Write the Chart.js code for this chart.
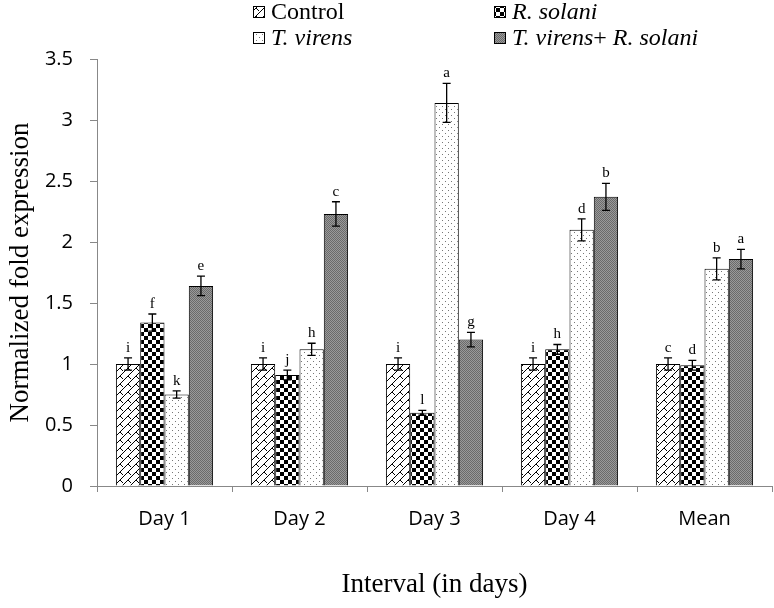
<!DOCTYPE html>
<html>
<head>
<meta charset="utf-8">
<script src="https://cdn.jsdelivr.net/npm/chart.js@4/dist/chart.umd.min.js"></script>
<style>
  body { margin: 0; background: #fff; }
  #wrap { width: 774px; height: 608px; }
</style>
</head>
<body>
<div id="wrap"><canvas id="chart" width="774" height="608"></canvas></div>
<script>
// Data
const categories = ["Day 1", "Day 2", "Day 3", "Day 4", "Mean"];
const controlVals = [1.0, 1.0, 1.0, 1.0, 1.0];
const solaniVals = [1.34, 0.91, 0.60, 1.12, 0.99];
const virensVals = [0.75, 1.12, 3.14, 2.10, 1.78];
const comboVals = [1.64, 2.23, 1.20, 2.37, 1.86];

// Error bars (+/-)
const controlErr = [0.05, 0.05, 0.05, 0.05, 0.05];
const solaniErr = [0.07, 0.04, 0.02, 0.04, 0.04];
const virensErr = [0.03, 0.05, 0.16, 0.09, 0.09];
const comboErr = [0.08, 0.10, 0.06, 0.11, 0.08];

// Significance letters
const controlLetters = ["i", "i", "i", "i", "c"];
const solaniLetters = ["f", "j", "l", "h", "d"];
const virensLetters = ["k", "h", "a", "d", "b"];
const comboLetters = ["e", "c", "g", "b", "a"];

const yTicks = [0, 0.5, 1, 1.5, 2, 2.5, 3, 3.5];

const serif = '"Liberation Serif", "Times New Roman", serif';

// Build fill patterns with small canvases
function makeTile(size, draw) {
  const c = document.createElement("canvas");
  c.width = size;
  c.height = size;
  const g = c.getContext("2d");
  draw(g, size);
  return document.createElement("canvas").getContext("2d").createPattern(c, "repeat");
}

const hatchPattern = makeTile(8, (g, s) => {
  g.fillStyle = "#fff";
  g.fillRect(0, 0, s, s);
  g.strokeStyle = "#000";
  g.lineWidth = 1;
  g.beginPath();
  g.moveTo(0, s); g.lineTo(s, 0);
  g.moveTo(-1, 1); g.lineTo(1, -1);
  g.moveTo(s - 1, s + 1); g.lineTo(s + 1, s - 1);
  g.moveTo(0, 0); g.lineTo(3, 3);
  g.stroke();
});

const checkPattern = makeTile(8, (g, s) => {
  g.fillStyle = "#fff";
  g.fillRect(0, 0, s, s);
  g.fillStyle = "#000";
  g.fillRect(0, 0, 4, 4);
  g.fillRect(4, 4, 4, 4);
});

const dotPattern = makeTile(6, (g, s) => {
  g.fillStyle = "#fff";
  g.fillRect(0, 0, s, s);
  g.fillStyle = "#777";
  g.fillRect(1, 1, 1, 1);
  g.fillRect(4, 4, 1, 1);
});

const grayPattern = makeTile(2, (g, s) => {
  g.fillStyle = "#9a9a9a";
  g.fillRect(0, 0, s, s);
  g.fillStyle = "#6a6a6a";
  g.fillRect(0, 0, 1, 1);
  g.fillRect(1, 1, 1, 1);
});

const errs = [controlErr, solaniErr, virensErr, comboErr];
const letters = [controlLetters, solaniLetters, virensLetters, comboLetters];

// Set a font and measure once, so the context resolves the face before drawing
function useFont(ctx, font) {
  ctx.font = font;
  ctx.measureText("Mg");
}

// Error bars and letters above each bar
const errorBarPlugin = {
  id: "errorBars",
  afterDatasetsDraw(chart) {
    const ctx = chart.ctx;
    const y = chart.scales.y;
    ctx.save();
    useFont(ctx, "15px " + serif);
    chart.data.datasets.forEach((ds, di) => {
      const meta = chart.getDatasetMeta(di);
      meta.data.forEach((bar, i) => {
        const v = ds.data[i];
        const e = errs[di][i];
        const top = y.getPixelForValue(v + e);
        const bot = y.getPixelForValue(v - e);
        const x = bar.x;
        ctx.strokeStyle = "#000";
        ctx.lineWidth = 1.3;
        ctx.beginPath();
        ctx.moveTo(x, top); ctx.lineTo(x, bot);
        ctx.moveTo(x - 4, top); ctx.lineTo(x + 4, top);
        ctx.moveTo(x - 4, bot); ctx.lineTo(x + 4, bot);
        ctx.stroke();
        ctx.fillStyle = "#000";
        ctx.textAlign = "center";
        ctx.textBaseline = "alphabetic";
        ctx.fillText(letters[di][i], x, top - 6);
      });
    });
    ctx.restore();
  }
};

// Two-column legend with italic species names
const legendPlugin = {
  id: "patternLegend",
  afterDraw(chart) {
    const ctx = chart.ctx;
    const items = [
      { x: 253, y: 12, fill: hatchPattern, parts: [["Control", false]] },
      { x: 494, y: 12, fill: checkPattern, parts: [["R. solani", true]] },
      { x: 253, y: 38, fill: dotPattern, parts: [["T. virens", true]] },
      { x: 494, y: 38, fill: grayPattern, parts: [["T. virens", true], ["+ ", false], ["R. solani", true]] }
    ];
    ctx.save();
    ctx.textBaseline = "middle";
    ctx.textAlign = "left";
    items.forEach(it => {
      ctx.fillStyle = it.fill;
      ctx.fillRect(it.x, it.y - 6, 12, 12);
      ctx.strokeStyle = "#000";
      ctx.lineWidth = 1;
      ctx.strokeRect(it.x + 0.5, it.y - 5.5, 11, 11);
      let tx = it.x + 18;
      ctx.fillStyle = "#000";
      it.parts.forEach(([t, ital]) => {
        useFont(ctx, (ital ? "italic " : "") + "24px " + serif);
        const w = ctx.measureText(t).width;
        ctx.fillText(t, tx, it.y + 1);
        tx += w;
      });
    });
    ctx.restore();
  }
};

const makeDataset = (label, data, fill) => ({
  label,
  data,
  backgroundColor: fill,
  borderColor: "#000",
  borderWidth: 1,
  categoryPercentage: 0.72,
  barPercentage: 1.0
});

new Chart(document.getElementById("chart"), {
  type: "bar",
  data: {
    labels: categories,
    datasets: [
      makeDataset("Control", controlVals, hatchPattern),
      makeDataset("R. solani", solaniVals, checkPattern),
      makeDataset("T. virens", virensVals, dotPattern),
      makeDataset("T. virens + R. solani", comboVals, grayPattern)
    ]
  },
  options: {
    responsive: false,
    animation: false,
    devicePixelRatio: 1,
    layout: { padding: { top: 59, right: 2, left: 0, bottom: 0 } },
    plugins: {
      legend: { display: false },
      tooltip: { enabled: false }
    },
    scales: {
      x: {
        afterFit(scale) { scale.height = 122; },
        grid: { drawOnChartArea: false, tickLength: 6, color: "#888" },
        border: { color: "#888", width: 1 },
        ticks: { color: "#000", padding: 15, font: { family: "'Open Sans'", size: 20 } },
        title: {
          display: true,
          text: "Interval (in days)",
          color: "#000",
          font: { family: serif, size: 27 },
          padding: { top: 0, bottom: 7 }
        }
      },
      y: {
        min: 0,
        max: 3.5,
        afterFit(scale) { scale.width = 97; },
        afterBuildTicks(scale) { scale.ticks = yTicks.map(v => ({ value: v })); },
        grid: { drawOnChartArea: false, tickLength: 7, color: "#888" },
        border: { color: "#888", width: 1 },
        ticks: {
          color: "#000",
          padding: 17,
          font: { family: "'Open Sans'", size: 20 },
          callback: v => String(v)
        },
        title: {
          display: true,
          text: "Normalized fold expression",
          color: "#000",
          font: { family: serif, size: 27 },
          padding: { top: 5, bottom: 0 }
        }
      }
    }
  },
  plugins: [errorBarPlugin, legendPlugin]
});
</script>
</body>
</html>
